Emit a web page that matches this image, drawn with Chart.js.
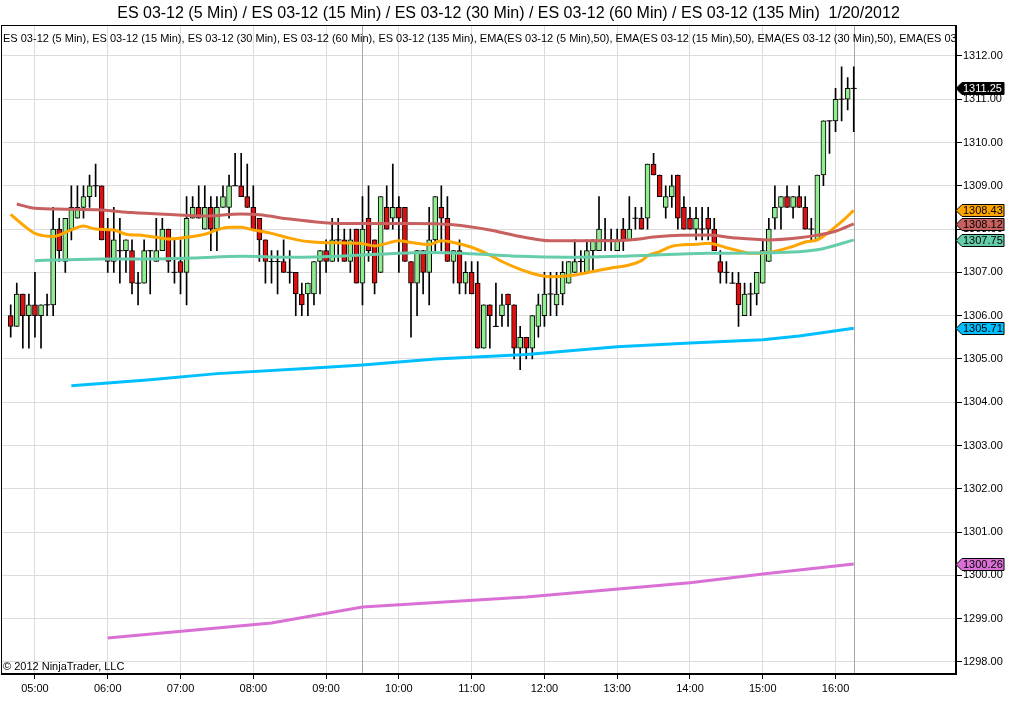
<!DOCTYPE html>
<html>
<head>
<meta charset="utf-8">
<title>ES 03-12 1/20/2012</title>
<script src="https://cdn.jsdelivr.net/npm/chart.js@4.4.1/dist/chart.umd.min.js"></script>
<style>
  html, body { margin: 0; padding: 0; background: #fff; }
</style>
</head>
<body>
<canvas id="chart" width="1016" height="720"></canvas>
<script>
// 5 minute bars, 04:40 .. 16:15
const times = [
  '04:40', '04:45', '04:50', '04:55',
  '05:00', '05:05', '05:10', '05:15', '05:20', '05:25', '05:30', '05:35', '05:40', '05:45', '05:50', '05:55',
  '06:00', '06:05', '06:10', '06:15', '06:20', '06:25', '06:30', '06:35', '06:40', '06:45', '06:50', '06:55',
  '07:00', '07:05', '07:10', '07:15', '07:20', '07:25', '07:30', '07:35', '07:40', '07:45', '07:50', '07:55',
  '08:00', '08:05', '08:10', '08:15', '08:20', '08:25', '08:30', '08:35', '08:40', '08:45', '08:50', '08:55',
  '09:00', '09:05', '09:10', '09:15', '09:20', '09:25', '09:30', '09:35', '09:40', '09:45', '09:50', '09:55',
  '10:00', '10:05', '10:10', '10:15', '10:20', '10:25', '10:30', '10:35', '10:40', '10:45', '10:50', '10:55',
  '11:00', '11:05', '11:10', '11:15', '11:20', '11:25', '11:30', '11:35', '11:40', '11:45', '11:50', '11:55',
  '12:00', '12:05', '12:10', '12:15', '12:20', '12:25', '12:30', '12:35', '12:40', '12:45', '12:50', '12:55',
  '13:00', '13:05', '13:10', '13:15', '13:20', '13:25', '13:30', '13:35', '13:40', '13:45', '13:50', '13:55',
  '14:00', '14:05', '14:10', '14:15', '14:20', '14:25', '14:30', '14:35', '14:40', '14:45', '14:50', '14:55',
  '15:00', '15:05', '15:10', '15:15', '15:20', '15:25', '15:30', '15:35', '15:40', '15:45', '15:50', '15:55',
  '16:00', '16:05', '16:10', '16:15'
];

const opens = [
  1306.0, 1305.75, 1306.5, 1306.0, 1306.25, 1306.0, 1306.25, 1306.25, 1308.0, 1307.25,
  1308.0, 1308.25, 1308.5, 1308.75, 1309.0, 1309.0, 1308.0, 1307.25, 1307.5, 1307.5,
  1307.5, 1306.75, 1306.75, 1307.5, 1307.25, 1307.5, 1308.0, 1307.0, 1307.25, 1307.0,
  1308.25, 1308.5, 1308.0, 1308.5, 1308.0, 1308.5, 1308.5, 1309.0, 1309.0, 1308.75,
  1308.5, 1308.25, 1307.75, 1307.25, 1307.25, 1307.25, 1307.0, 1307.0, 1306.5, 1306.5,
  1306.5, 1307.25, 1307.5, 1307.25, 1307.75, 1307.75, 1307.25, 1308.0, 1306.75, 1308.25,
  1307.75, 1307.0, 1308.5, 1308.25, 1308.5, 1308.5, 1307.25, 1306.75, 1307.5, 1307.0,
  1307.75, 1308.5, 1308.25, 1307.25, 1307.5, 1306.75, 1307.0, 1306.75, 1305.25, 1306.25,
  1305.75, 1306.0, 1306.5, 1306.25, 1305.25, 1305.5, 1305.25, 1305.75, 1306.0, 1306.5,
  1306.25, 1306.5, 1306.75, 1307.0, 1307.25, 1307.0, 1307.5, 1307.5, 1307.75, 1307.75,
  1307.5, 1308.0, 1307.75, 1308.25, 1308.25, 1308.25, 1309.5, 1309.25, 1308.5, 1308.75,
  1309.25, 1308.5, 1308.25, 1308.0, 1308.0, 1308.25, 1308.0, 1307.25, 1307.0, 1306.75,
  1306.75, 1306.0, 1306.5, 1306.5, 1306.75, 1307.25, 1308.25, 1308.5, 1308.75, 1308.5,
  1308.75, 1308.5, 1308.0, 1307.75, 1309.25, 1310.5, 1310.5, 1311.0, 1311.0, 1311.25
];
const highs = [
  1306.25, 1306.75, 1306.5, 1306.5, 1307.0, 1306.25, 1306.5, 1308.5, 1308.25, 1308.25,
  1309.0, 1309.0, 1309.0, 1309.25, 1309.5, 1309.0, 1308.25, 1308.5, 1308.25, 1307.75,
  1307.75, 1307.0, 1307.75, 1307.5, 1308.25, 1308.25, 1308.0, 1307.75, 1307.75, 1308.75,
  1308.75, 1309.0, 1309.0, 1308.75, 1308.75, 1309.0, 1309.25, 1309.75, 1309.75, 1309.5,
  1309.0, 1308.25, 1307.75, 1307.5, 1307.5, 1307.75, 1307.5, 1307.0, 1306.75, 1306.75,
  1307.25, 1307.5, 1307.75, 1308.25, 1308.25, 1308.0, 1308.0, 1308.0, 1308.75, 1309.0,
  1307.75, 1308.75, 1309.0, 1309.5, 1308.75, 1308.5, 1307.25, 1307.5, 1307.5, 1308.5,
  1308.75, 1309.0, 1308.75, 1307.5, 1307.75, 1307.25, 1307.25, 1307.25, 1306.25, 1306.25,
  1306.75, 1306.5, 1306.5, 1306.25, 1305.75, 1305.5, 1306.0, 1306.5, 1307.0, 1307.0,
  1307.0, 1307.25, 1307.25, 1307.75, 1307.5, 1307.75, 1307.75, 1308.75, 1308.25, 1308.0,
  1308.0, 1308.25, 1308.75, 1308.5, 1308.5, 1309.5, 1309.75, 1309.25, 1309.0, 1309.25,
  1309.25, 1308.75, 1308.5, 1308.5, 1308.5, 1308.5, 1308.25, 1307.5, 1307.25, 1307.0,
  1307.0, 1306.75, 1306.75, 1307.0, 1307.75, 1308.25, 1309.0, 1308.75, 1309.0, 1308.75,
  1309.0, 1308.75, 1308.25, 1309.25, 1310.5, 1310.5, 1311.25, 1311.75, 1311.5, 1311.75
];
const lows = [
  1305.5, 1305.75, 1305.25, 1305.25, 1305.5, 1305.25, 1306.0, 1306.0, 1307.25, 1307.0,
  1307.75, 1308.25, 1308.25, 1308.5, 1308.75, 1307.75, 1307.0, 1307.0, 1306.75, 1307.0,
  1306.5, 1306.25, 1306.75, 1306.5, 1307.25, 1307.5, 1307.0, 1306.75, 1306.5, 1306.25,
  1308.25, 1308.25, 1308.0, 1307.5, 1307.5, 1308.5, 1308.25, 1309.0, 1308.75, 1308.5,
  1308.0, 1307.25, 1306.75, 1306.75, 1306.5, 1307.0, 1306.75, 1306.0, 1306.0, 1306.0,
  1306.25, 1306.5, 1307.0, 1307.25, 1307.25, 1307.25, 1307.0, 1306.75, 1306.25, 1307.25,
  1306.5, 1307.0, 1308.0, 1308.0, 1307.0, 1307.25, 1305.5, 1306.0, 1306.5, 1306.25,
  1307.5, 1307.5, 1307.25, 1306.75, 1306.5, 1306.5, 1306.5, 1305.25, 1305.25, 1305.25,
  1305.75, 1305.75, 1305.75, 1305.0, 1304.75, 1305.0, 1305.0, 1305.5, 1305.75, 1306.0,
  1306.0, 1306.25, 1306.75, 1307.0, 1307.0, 1307.0, 1307.0, 1307.5, 1307.5, 1307.5,
  1307.5, 1307.5, 1307.75, 1308.0, 1308.0, 1308.0, 1309.25, 1308.75, 1308.25, 1308.5,
  1308.0, 1308.0, 1308.0, 1307.75, 1307.75, 1307.75, 1307.5, 1306.75, 1306.75, 1306.75,
  1305.75, 1306.0, 1306.0, 1306.25, 1306.75, 1307.25, 1308.0, 1308.0, 1308.5, 1308.25,
  1308.5, 1308.0, 1307.75, 1307.75, 1309.0, 1309.75, 1310.25, 1310.5, 1310.75, 1310.25
];
const closes = [
  1305.75, 1306.5, 1306.0, 1306.25, 1306.0, 1306.25, 1306.25, 1308.0, 1307.5, 1308.25,
  1308.5, 1308.5, 1308.75, 1309.0, 1309.0, 1307.75, 1307.25, 1307.75, 1307.5, 1307.75,
  1306.75, 1306.75, 1307.5, 1307.5, 1307.5, 1308.0, 1307.25, 1307.0, 1307.0, 1308.25,
  1308.5, 1308.25, 1308.5, 1308.0, 1308.5, 1308.75, 1309.0, 1309.0, 1308.75, 1308.5,
  1308.0, 1307.75, 1307.25, 1307.25, 1307.25, 1307.0, 1307.0, 1306.5, 1306.25, 1306.75,
  1307.25, 1307.5, 1307.25, 1307.75, 1307.75, 1307.25, 1307.75, 1306.75, 1308.0, 1307.5,
  1306.75, 1308.75, 1308.0, 1308.5, 1308.25, 1307.25, 1306.75, 1307.5, 1307.0, 1307.75,
  1308.75, 1308.25, 1307.25, 1307.5, 1306.75, 1307.0, 1306.5, 1305.25, 1306.25, 1306.0,
  1305.75, 1306.25, 1306.25, 1305.25, 1305.5, 1305.25, 1306.0, 1306.25, 1306.5, 1306.5,
  1306.5, 1307.0, 1307.25, 1307.25, 1307.25, 1307.5, 1307.75, 1308.0, 1307.75, 1307.75,
  1307.75, 1307.75, 1308.0, 1308.25, 1308.0, 1309.5, 1309.25, 1308.75, 1308.75, 1309.0,
  1308.25, 1308.0, 1308.0, 1308.25, 1308.0, 1308.0, 1307.5, 1307.0, 1307.0, 1306.75,
  1306.25, 1306.5, 1306.5, 1307.0, 1307.5, 1308.0, 1308.5, 1308.75, 1308.5, 1308.75,
  1308.5, 1308.0, 1308.0, 1309.25, 1310.5, 1310.5, 1311.0, 1311.0, 1311.25, 1311.25
];

// EMA(50) of each series, read at the bends of the plotted lines
const ema5Times = ['04:40', '04:50', '05:00', '05:15', '05:30', '05:40', '05:50', '06:05', '06:15', '06:25', '06:40',
  '06:50', '07:10', '07:20', '07:30', '07:40', '07:50', '08:00', '08:15', '08:30', '08:45', '08:55', '09:30', '09:40',
  '09:50', '10:00', '10:10', '10:25', '10:35', '10:45', '11:00', '11:15', '11:25', '11:40', '11:55', '12:05', '12:20',
  '12:25', '12:40', '12:55', '13:10', '13:20', '13:25', '13:35', '13:45', '14:05', '14:15', '14:30', '14:40', '14:50',
  '15:05', '15:15', '15:25', '15:35', '15:45', '15:55', '16:05', '16:15'];
const ema5Vals = [1308.34, 1308.10, 1307.90, 1307.83, 1307.98, 1308.07, 1308.00, 1307.98, 1307.88, 1307.86, 1307.81,
  1307.77, 1307.83, 1307.88, 1307.98, 1308.04, 1308.04, 1307.98, 1307.90, 1307.79, 1307.71, 1307.69, 1307.66, 1307.61,
  1307.67, 1307.73, 1307.69, 1307.64, 1307.73, 1307.69, 1307.58, 1307.40, 1307.25, 1307.07, 1306.94, 1306.90, 1306.92,
  1306.94, 1307.02, 1307.10, 1307.17, 1307.27, 1307.38, 1307.48, 1307.60, 1307.65, 1307.67, 1307.57, 1307.50, 1307.44,
  1307.46, 1307.52, 1307.60, 1307.70, 1307.75, 1307.94, 1308.17, 1308.43];

const ema15Times = ['04:45', '05:00', '05:25', '05:55', '06:20', '06:55', '07:20', '07:50', '08:05', '08:30', '08:50',
  '09:15', '10:10', '10:45', '11:15', '11:40', '12:05', '12:40', '13:10', '13:35', '14:15', '14:35', '15:05', '15:30',
  '15:45', '16:00', '16:15'];
const ema15Vals = [1308.58, 1308.48, 1308.46, 1308.44, 1308.38, 1308.33, 1308.30, 1308.35, 1308.33, 1308.23, 1308.17,
  1308.13, 1308.13, 1308.10, 1307.98, 1307.83, 1307.73, 1307.73, 1307.75, 1307.83, 1307.86, 1307.80, 1307.75, 1307.80,
  1307.86, 1307.95, 1308.12];

const ema30Times = ['05:00', '05:25', '05:55', '06:35', '07:10', '07:50', '08:30', '09:15', '10:25', '11:00', '11:40',
  '12:20', '13:10', '14:15', '15:05', '15:45', '16:15'];
const ema30Vals = [1307.27, 1307.29, 1307.31, 1307.31, 1307.33, 1307.37, 1307.35, 1307.38, 1307.46, 1307.43, 1307.37,
  1307.35, 1307.38, 1307.44, 1307.45, 1307.52, 1307.75];

const ema60Times = ['05:30', '06:35', '07:30', '08:40', '09:30', '10:30', '11:45', '13:00', '14:00', '15:00', '15:30', '16:15'];
const ema60Vals = [1304.38, 1304.52, 1304.66, 1304.77, 1304.86, 1305.00, 1305.10, 1305.28, 1305.37, 1305.44, 1305.53, 1305.71];

const ema135Times = ['06:00', '08:15', '09:30', '11:45', '14:00', '15:00', '16:15'];
const ema135Vals = [1298.55, 1298.90, 1299.27, 1299.50, 1299.83, 1300.03, 1300.26];

const hourLabels = ['05:00', '06:00', '07:00', '08:00', '09:00', '10:00', '11:00', '12:00', '13:00', '14:00', '15:00', '16:00'];
const sessionMarks = ['09:30', '16:15'];

const titleText = 'ES 03-12 (5 Min) / ES 03-12 (15 Min) / ES 03-12 (30 Min) / ES 03-12 (60 Min) / ES 03-12 (135 Min)  1/20/2012';
const seriesText = 'ES 03-12 (5 Min), ES 03-12 (15 Min), ES 03-12 (30 Min), ES 03-12 (60 Min), ES 03-12 (135 Min), ' +
  'EMA(ES 03-12 (5 Min),50), EMA(ES 03-12 (15 Min),50), EMA(ES 03-12 (30 Min),50), EMA(ES 03-12 (60 Min),50), EMA(ES 03-12 (135 Min),50)';

const FONT = '"Liberation Sans", Arial, sans-serif';
const UP = '#90ee90', DOWN = '#dc1010';
const emaColors = ['#ffa500', '#c86060', '#66cdaa', '#00bfff', '#da70d6'];

function toMin(t) {
  const p = t.split(':');
  return +p[0] * 60 + +p[1];
}
function fmtMin(m) {
  const h = Math.floor(m / 60), mm = m % 60;
  return String(h).padStart(2, '0') + ':' + String(mm).padStart(2, '0');
}

const wicks = times.map((t, i) => ({ x: toMin(t), y: [lows[i], highs[i]] }));
const bodies = [];
const dojis = [];
times.forEach((t, i) => {
  if (opens[i] === closes[i]) dojis.push({ x: toMin(t), y: opens[i] });
  else bodies.push({ x: toMin(t), y: [opens[i], closes[i]] });
});

function emaLine(label, ts, vals, color, smooth) {
  return {
    type: 'line',
    label: label,
    data: ts.map((t, i) => ({ x: toMin(t), y: vals[i] })),
    borderColor: color,
    borderWidth: 3,
    pointRadius: 0,
    fill: false,
    cubicInterpolationMode: smooth ? 'monotone' : 'default',
    tension: 0,
    order: 0
  };
}

function drawFlag(ctx, x, y, text, bg, fg) {
  const h = 12, w = 48, tip = 6;
  ctx.beginPath();
  ctx.moveTo(x, y);
  ctx.lineTo(x + tip, y - h / 2);
  ctx.lineTo(x + w, y - h / 2);
  ctx.lineTo(x + w, y + h / 2);
  ctx.lineTo(x + tip, y + h / 2);
  ctx.closePath();
  ctx.fillStyle = bg;
  ctx.fill();
  ctx.strokeStyle = '#000';
  ctx.lineWidth = 1;
  ctx.stroke();
  ctx.fillStyle = fg;
  ctx.fillText(text, x + tip + 1, y + 0.5);
}

const decorations = {
  id: 'decorations',
  beforeDatasetsDraw(chart) {
    const { ctx, chartArea: a, scales: { x } } = chart;
    ctx.save();
    ctx.strokeStyle = '#a8a8a8';
    ctx.lineWidth = 1;
    sessionMarks.forEach(t => {
      const px = Math.round(x.getPixelForValue(toMin(t))) + 0.5;
      ctx.beginPath();
      ctx.moveTo(px, a.top);
      ctx.lineTo(px, a.bottom);
      ctx.stroke();
    });
    ctx.beginPath();
    ctx.rect(a.left, a.top, a.right - a.left, a.bottom - a.top);
    ctx.clip();
    ctx.fillStyle = '#000';
    ctx.font = '11px ' + FONT;
    ctx.textBaseline = 'middle';
    ctx.fillText(seriesText, a.left + 2, a.top + 14);
    ctx.fillText('\u00a9 2012 NinjaTrader, LLC', a.left + 2, a.bottom - 7);
    ctx.restore();
  },
  afterDraw(chart) {
    const { ctx, chartArea: a, scales: { y } } = chart;
    ctx.save();
    ctx.strokeStyle = '#000';
    ctx.lineWidth = 1;
    ctx.strokeRect(Math.round(a.left) + 0.5, Math.round(a.top) + 0.5,
      Math.round(a.right - a.left) - 1, Math.round(a.bottom - a.top) - 1);

    ctx.font = '11px ' + FONT;
    ctx.textBaseline = 'middle';
    const lastVals = [ema5Vals, ema15Vals, ema30Vals, ema60Vals, ema135Vals].map(v => v[v.length - 1]);
    lastVals.forEach((v, i) => {
      drawFlag(ctx, Math.round(a.right), Math.round(y.getPixelForValue(v)) + 0.5, v.toFixed(2), emaColors[i], '#000');
    });
    const last = closes[closes.length - 1];
    drawFlag(ctx, Math.round(a.right), Math.round(y.getPixelForValue(last)) + 0.5, last.toFixed(2), '#000', '#fff');
    ctx.restore();
  }
};

new Chart(document.getElementById('chart'), {
  type: 'bar',
  data: {
    datasets: [
      emaLine('EMA(ES 03-12 (135 Min),50)', ema135Times, ema135Vals, emaColors[4], false),
      emaLine('EMA(ES 03-12 (60 Min),50)', ema60Times, ema60Vals, emaColors[3], false),
      emaLine('EMA(ES 03-12 (30 Min),50)', ema30Times, ema30Vals, emaColors[2], true),
      emaLine('EMA(ES 03-12 (15 Min),50)', ema15Times, ema15Vals, emaColors[1], true),
      emaLine('EMA(ES 03-12 (5 Min),50)', ema5Times, ema5Vals, emaColors[0], true),
      {
        label: 'body',
        data: bodies,
        grouped: false,
        barThickness: 5,
        backgroundColor: c => (c.raw && c.raw.y[1] > c.raw.y[0] ? UP : DOWN),
        borderColor: '#000',
        borderWidth: 1,
        borderSkipped: false,
        order: 1
      },
      {
        type: 'line',
        label: 'doji',
        data: dojis,
        showLine: false,
        pointStyle: 'line',
        pointRadius: 3,
        pointBorderColor: '#000',
        pointBorderWidth: 1,
        order: 1
      },
      {
        label: 'wick',
        data: wicks,
        grouped: false,
        barThickness: 1,
        backgroundColor: '#000',
        borderWidth: 0,
        order: 2
      }
    ]
  },
  options: {
    responsive: false,
    animation: false,
    events: [],
    layout: { autoPadding: false, padding: { left: 1, right: 0, top: 0, bottom: 0 } },
    plugins: {
      legend: { display: false },
      tooltip: { enabled: false },
      title: {
        display: true,
        text: titleText,
        color: '#000',
        font: { family: FONT, size: 16, weight: 'normal' },
        padding: { top: 4, bottom: 2 }
      }
    },
    scales: {
      x: {
        type: 'linear',
        offset: false,
        min: 272,
        max: 1059.3,
        afterBuildTicks: s => { s.ticks = hourLabels.map(t => ({ value: toMin(t) })); },
        afterFit: s => { s.height = 46; s.paddingLeft = 0; s.paddingRight = 0; },
        ticks: {
          callback: v => fmtMin(v),
          autoSkip: false,
          maxRotation: 0,
          padding: 3,
          color: '#000',
          font: { family: FONT, size: 11 }
        },
        grid: { offset: false, color: '#dcdcdc', tickColor: '#000', tickLength: 5 },
        border: { color: '#000' }
      },
      y: {
        position: 'right',
        min: 1297.72,
        max: 1312.71,
        afterFit: s => { s.width = 60; },
        ticks: {
          stepSize: 1,
          includeBounds: false,
          callback: v => v.toFixed(2),
          padding: 1,
          color: '#000',
          font: { family: FONT, size: 11 }
        },
        grid: { color: '#dcdcdc', tickColor: '#000', tickLength: 6 },
        border: { color: '#000' }
      }
    }
  },
  plugins: [decorations]
});
</script>
</body>
</html>
